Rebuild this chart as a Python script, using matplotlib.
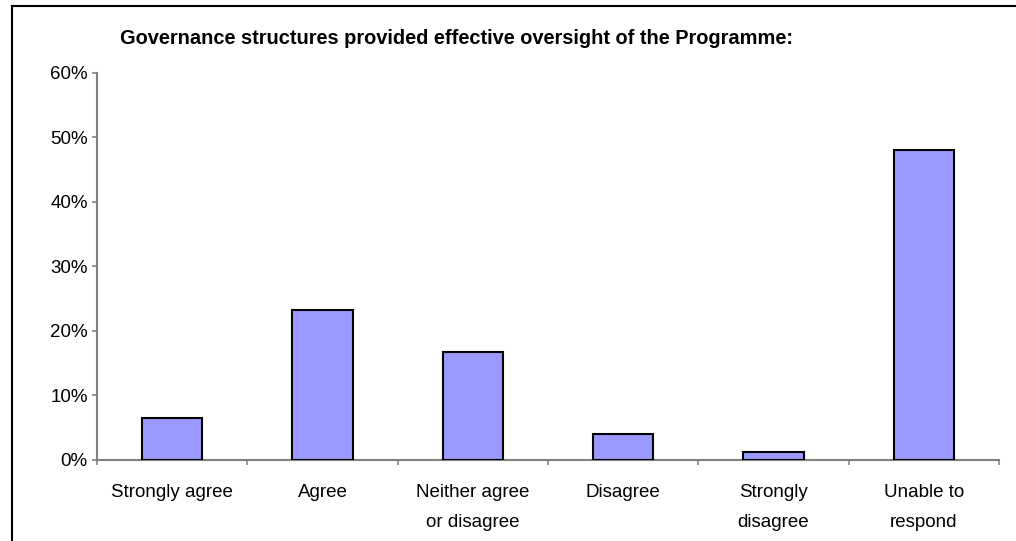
import matplotlib
matplotlib.use('Agg')
from matplotlib import pyplot as plt
from matplotlib.lines import Line2D
from matplotlib.ticker import PercentFormatter
import numpy as np

plt.rcParams['font.family'] = ['Liberation Sans', 'DejaVu Sans']

# survey answers (share of respondents, %)
categories = ['Strongly agree', 'Agree', 'Neither agree\nor disagree',
              'Disagree', 'Strongly\ndisagree', 'Unable to\nrespond']
shares = [6.5, 23.3, 16.8, 4.0, 1.2, 48.1]
y_ticks = [0, 10, 20, 30, 40, 50, 60]

fig = plt.figure(figsize=(10.16, 5.41), dpi=100)
ax = fig.add_axes([97 / 1016, 1 - 460 / 541, 902 / 1016, (460 - 72.7) / 541])

xs = np.arange(len(categories))
ax.bar(xs, shares, width=0.4, color='#9999FF', edgecolor='black', linewidth=1.5, zorder=3)

ax.set_xlim(-0.5, len(categories) - 0.5)
ax.set_ylim(0, 60)
ax.set_yticks(y_ticks)
ax.yaxis.set_major_formatter(PercentFormatter(decimals=0))

# labels centred under bars, tick marks between categories
ax.set_xticks(xs)
ax.set_xticklabels(categories, fontsize=13.5, linespacing=2.0, va='top')
ax.set_xticks(np.arange(len(categories) + 1) - 0.5, minor=True)
ax.tick_params(axis='x', which='major', length=0, pad=17)
ax.tick_params(axis='x', which='minor', length=3.6, width=1.2, color='#808080', direction='out')
ax.tick_params(axis='y', length=3.6, width=1.2, color='#808080', labelsize=13.5, pad=3)

for side in ['top', 'right']:
    ax.spines[side].set_visible(False)
for side in ['left', 'bottom']:
    ax.spines[side].set_color('#808080')
    ax.spines[side].set_linewidth(1.5)

fig.text(457 / 1016, 1 - 38 / 541, 'Governance structures provided effective oversight of the Programme:',
         ha='center', va='center', fontsize=14.4, fontweight='bold')

# chart area frame (only top and left edges visible in the crop)
fig.add_artist(Line2D([12 / 1016, 1], [1 - 6 / 541, 1 - 6 / 541], transform=fig.transFigure,
                      color='black', linewidth=1.5))
fig.add_artist(Line2D([12 / 1016, 12 / 1016], [0, 1 - 6 / 541], transform=fig.transFigure,
                      color='black', linewidth=1.5))

fig.savefig('out.png', dpi=100)
